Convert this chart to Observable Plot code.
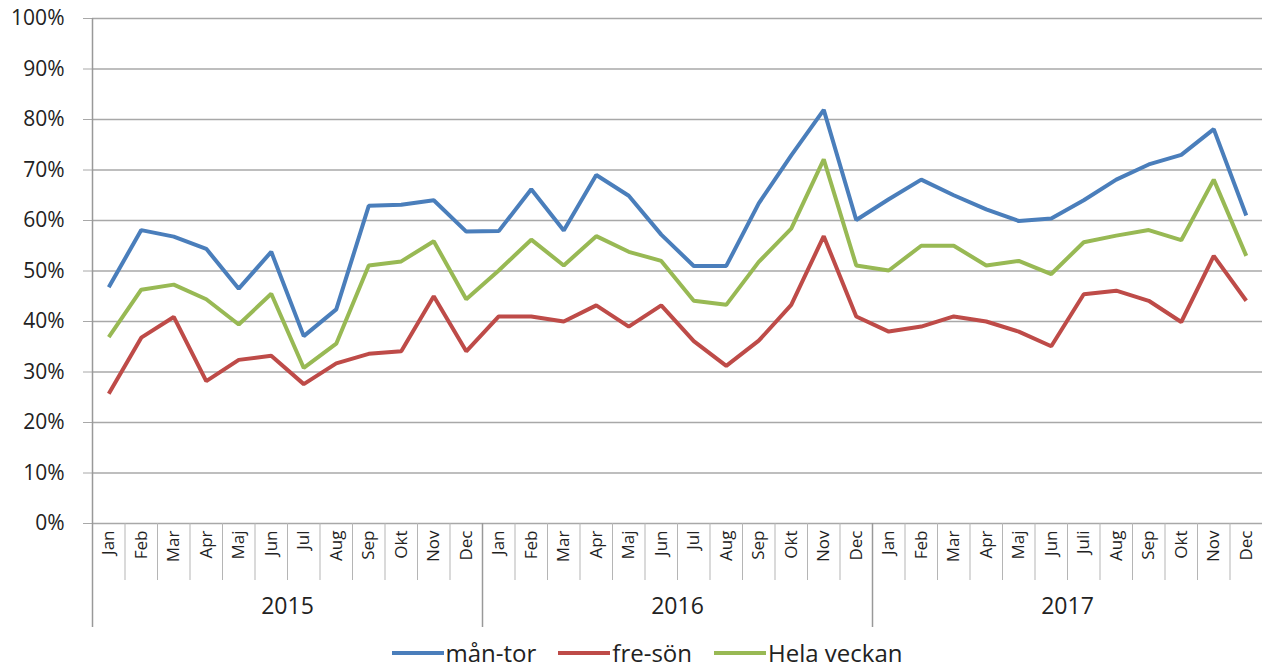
<!DOCTYPE html>
<html>
<head>
<meta charset="utf-8">
<script src="https://cdn.jsdelivr.net/npm/d3@7"></script>
<script src="https://cdn.jsdelivr.net/npm/@observablehq/plot@0.6"></script>
<style>
  html, body { margin: 0; padding: 0; background: #fff; overflow: hidden; }
  #chart { width: 1262px; height: 638px; font-family: "Open Sans", sans-serif; }
  #chart svg { display: block; }
  #legend { display: flex; justify-content: center; align-items: center; padding-left: 32px; height: 30px; font-family: "Open Sans", sans-serif; font-size: 24px; line-height: 1; color: #222; }
  .item { display: flex; align-items: center; margin: 0 11px; }
  .sw { width: 52px; height: 4px; margin-right: 2px; }
</style>
</head>
<body>
<div id="chart"></div>
<div id="legend"></div>
<script>
const monthLabels = ["Jan","Feb","Mar","Apr","Maj","Jun","Jul","Aug","Sep","Okt","Nov","Dec",
  "Jan","Feb","Mar","Apr","Maj","Jun","Jul","Aug","Sep","Okt","Nov","Dec",
  "Jan","Feb","Mar","Apr","Maj","Jun","Juli","Aug","Sep","Okt","Nov","Dec"];
const years = ["2015","2016","2017"];
const seriesNames = ["mån-tor","fre-sön","Hela veckan"];
const seriesColors = ["#4a7ebb","#be4b48","#98b954"];
const yTicks = [0,10,20,30,40,50,60,70,80,90,100];

const manTor = [46.8,58.1,56.8,54.4,46.5,53.8,37.1,42.4,62.9,63.1,64.0,57.8,
  57.9,66.2,58.0,69.0,64.9,57.2,51.0,51.0,63.4,72.9,81.9,60.1,
  64.2,68.1,65.0,62.2,59.9,60.4,64.0,68.1,71.1,73.0,78.1,61.0];
const freSon = [25.7,36.8,40.9,28.2,32.4,33.2,27.6,31.7,33.6,34.1,45.0,34.1,
  41.0,41.0,40.0,43.2,39.0,43.2,36.1,31.2,36.2,43.3,56.9,41.0,
  38.0,39.0,41.0,40.0,38.0,35.1,45.4,46.1,44.1,39.9,53.0,44.1];
const helaVeckan = [36.9,46.3,47.3,44.4,39.4,45.5,30.8,35.6,51.1,51.9,55.9,44.4,
  50.1,56.2,51.1,56.9,53.8,52.0,44.1,43.3,51.8,58.4,72.1,51.1,
  50.1,55.0,55.0,51.1,52.0,49.4,55.7,57.0,58.1,56.1,68.1,53.0];

const seriesValues = [manTor, freSon, helaVeckan];
const data = seriesNames.flatMap((s, k) => seriesValues[k].map((v, i) => ({series: s, i, v})));

const n = monthLabels.length;
const monthTicks = d3.range(n);
const monthDividers = d3.range(n - 1).map(i => i + 0.5);
const yearTicks = years.map((y, k) => k * 12 + 5.5);
const yearDividers = [-0.5, 11.5, 23.5];

const plot = Plot.plot({
  width: 1262,
  height: 638,
  marginLeft: 92,
  marginRight: 0,
  marginTop: 18,
  marginBottom: 115,
  style: {fontFamily: "Open Sans, sans-serif", color: "#222", background: "#fff"},
  x: {type: "linear", domain: [-0.5, n - 0.5], label: null},
  y: {domain: [0, 100], label: null},
  color: {domain: seriesNames, range: seriesColors},
  marks: [
    Plot.gridY(yTicks, {stroke: "#a8a8a8", strokeOpacity: 1, strokeWidth: 1.6}),
    Plot.axisY({ticks: yTicks, tickSize: 9, tickPadding: 19, tickFormat: d => d + "%", fontSize: 21, stroke: "#a8a8a8", label: null}),
    Plot.ruleX([-0.5], {stroke: "#999", strokeWidth: 1.5}),
    Plot.axisX({ticks: monthDividers, tickSize: 57, tickFormat: () => "", stroke: "#b5b5b5", label: null}),
    Plot.axisX({ticks: yearDividers, tickSize: 104, tickFormat: () => "", stroke: "#999", strokeWidth: 1.5, label: null}),
    Plot.axisX({ticks: monthTicks, tickSize: 0, tickPadding: 7, tickRotate: -90, tickFormat: i => monthLabels[i], fontSize: 17, label: null}),
    Plot.axisX({ticks: yearTicks, tickSize: 0, tickPadding: 74, tickFormat: (d, k) => years[k], fontSize: 23, label: null}),
    Plot.lineY(data, {x: "i", y: "v", stroke: "series", strokeWidth: 4, strokeLinejoin: "miter", strokeLinecap: "butt"})
  ]
});
document.getElementById("chart").appendChild(plot);

const legend = document.getElementById("legend");
seriesNames.forEach((s, k) => {
  const it = document.createElement("div");
  it.className = "item";
  const sw = document.createElement("div");
  sw.className = "sw";
  sw.style.background = seriesColors[k];
  const t = document.createElement("span");
  t.textContent = s;
  it.appendChild(sw);
  it.appendChild(t);
  legend.appendChild(it);
});
</script>
</body>
</html>
